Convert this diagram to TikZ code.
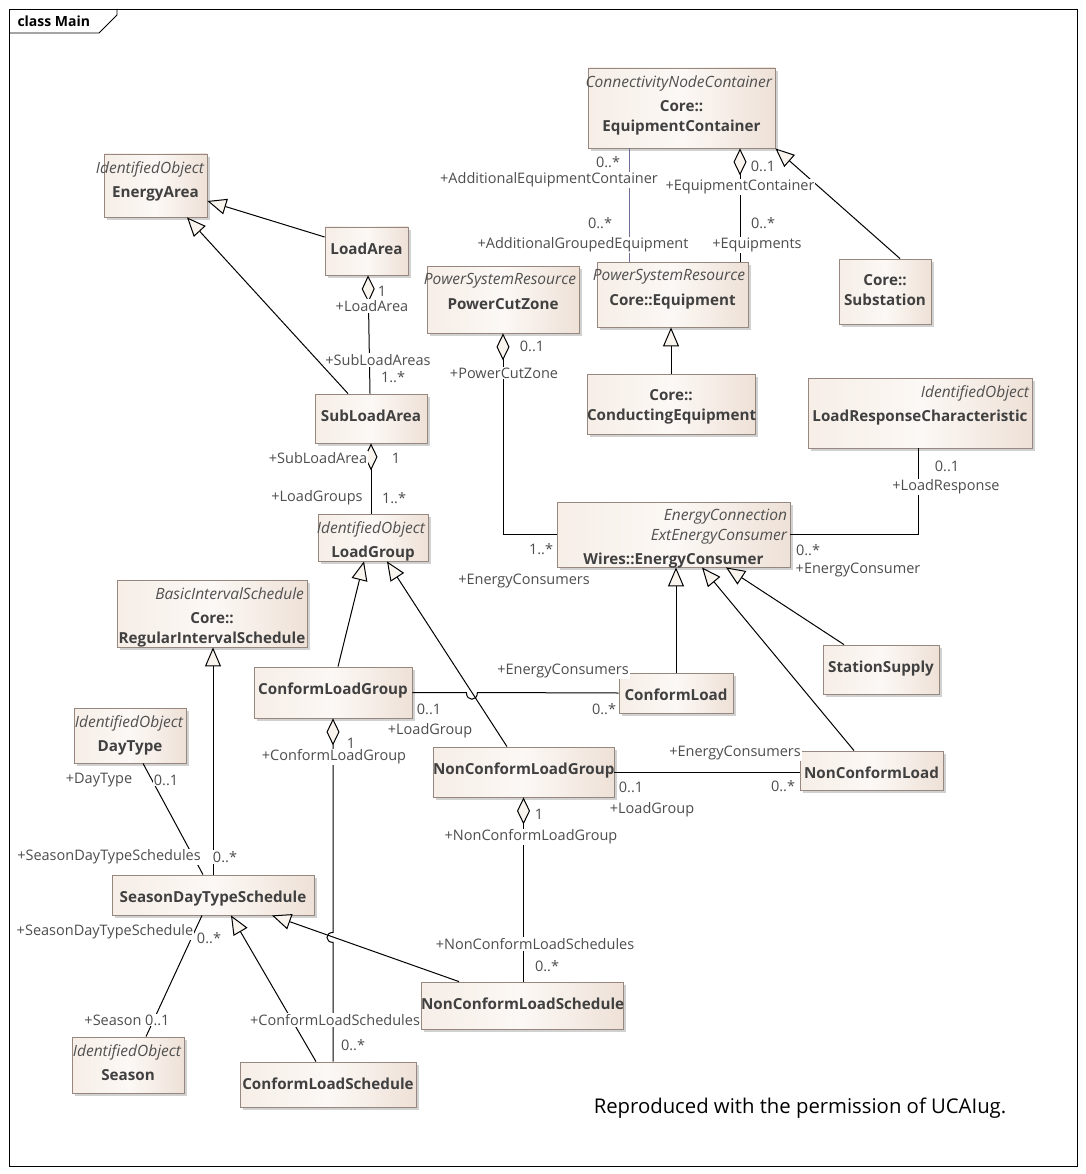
\documentclass[tikz,border=0pt]{standalone}
\usepackage{fontspec}
\setmainfont{Open Sans}
\usetikzlibrary{arrows.meta,shadows}

\definecolor{boxleft}{RGB}{246,238,231}
\definecolor{boxmid}{RGB}{252,248,245}
\definecolor{boxright}{RGB}{238,225,215}
\definecolor{boxline}{RGB}{150,136,126}
\definecolor{nametext}{RGB}{64,64,64}
\definecolor{stereotext}{RGB}{80,80,80}
\definecolor{roletext}{RGB}{77,77,77}
\definecolor{linkblue}{RGB}{110,110,150}
\definecolor{tipfill}{RGB}{250,244,239}

\newcommand{\stereo}[1]{\makebox[\linewidth][r]{\normalfont\itshape\fontsize{15.5}{19.5}\selectfont\color{stereotext}#1\hspace{3pt}}}

\tikzset{
  umlbox/.style 2 args={
    draw=boxline,
    line width=0.8pt,
    left color=boxleft, right color=boxright, middle color=boxmid,
    drop shadow={shadow xshift=3pt, shadow yshift=-3pt, fill=black!45, opacity=0.4},
    minimum width=#1,
    minimum height=#2,
    inner sep=0pt
  },
  classname/.style={
    anchor=north,
    align=center,
    text width=#1,
    inner sep=0pt,
    text=nametext,
    font=\bfseries\fontsize{15.2}{19.5}\selectfont
  },
  stereoname/.style={classname=#1, yshift=-7.5pt},
  plainname/.style={classname=#1, yshift=-16pt},
  role/.style={
    text=roletext,
    font=\fontsize{14.5}{16}\selectfont,
    fill=white,
    inner sep=1pt
  },
  inherit/.style={
    -{Triangle[length=19pt,width=16pt,fill=tipfill]},
    line width=1pt
  },
  aggregate/.style={
    {Diamond[length=27pt,width=13pt,fill=tipfill]}-,
    line width=1pt
  },
  assoc/.style={line width=1pt}
}

\begin{document}
\begin{tikzpicture}[x=1pt, y=-1pt]
  \fill[white] (0,0) rectangle (1085,1174);
  \useasboundingbox (0,0) rectangle (1085,1174);
  % frame
  \draw[line width=0.8pt] (9,9) rectangle (1077,1166);
  \draw[line width=0.8pt] (9,33) -- (99,33) -- (117,15) -- (117,9);
  \node[anchor=west, font=\bfseries\fontsize{14}{16}\selectfont] (title) at (14,21) {class Main};

  % classes
  \node[umlbox={103pt}{63pt}, label={[stereoname=103pt]north:{\stereo{IdentifiedObject}\\[5pt]EnergyArea}}] (energyarea) at (155.5,185.5) {};
  \node[umlbox={83pt}{48pt}, label={[plainname=83pt]north:{LoadArea}}] (loadarea) at (366.5,251) {};
  \node[umlbox={187pt}{80pt}, label={[stereoname=187pt]north:{\stereo{ConnectivityNodeContainer}\\[5pt]Core::\\EquipmentContainer}}] (eqcontainer) at (681.5,108) {};
  \node[umlbox={152pt}{67pt}, label={[stereoname=152pt]north:{\stereo{PowerSystemResource}\\[5pt]PowerCutZone}}] (powercutzone) at (503,299.5) {};
  \node[umlbox={151pt}{65pt}, label={[stereoname=151pt]north:{\stereo{PowerSystemResource}\\[5pt]Core::Equipment}}] (equipment) at (672.5,294.5) {};
  \node[umlbox={92pt}{65pt}, label={[plainname=92pt]north:{Core::\\Substation}}] (substation) at (885,291.5) {};
  \node[umlbox={168pt}{60pt}, label={[plainname=168pt]north:{Core::\\ConductingEquipment}}] (condequip) at (671,404) {};
  \node[umlbox={224pt}{70pt}, label={[stereoname=224pt]north:{\stereo{IdentifiedObject}\\[5pt]LoadResponseCharacteristic}}] (lrc) at (920,413) {};
  \node[umlbox={112pt}{49pt}, label={[plainname=112pt]north:{SubLoadArea}}] (subloadarea) at (371,418.5) {};
  \node[umlbox={110pt}{47pt}, label={[stereoname=110pt]north:{\stereo{IdentifiedObject}\\[5pt]LoadGroup}}] (loadgroup) at (373,537.5) {};
  \node[umlbox={233pt}{65pt}, label={[stereoname=233pt]north:{\stereo{EnergyConnection}\\\stereo{ExtEnergyConsumer}\\[5pt]Wires::EnergyConsumer}}] (energyconsumer) at (673.5,534.5) {};
  \node[umlbox={190pt}{67pt}, label={[stereoname=190pt]north:{\stereo{BasicIntervalSchedule}\\[5pt]Core::\\RegularIntervalSchedule}}] (regschedule) at (212,613.5) {};
  \node[umlbox={158pt}{51pt}, label={[plainname=158pt]north:{ConformLoadGroup}}] (conformgroup) at (333,692.5) {};
  \node[umlbox={114pt}{40pt}, label={[plainname=114pt]north:{ConformLoad}}] (conformload) at (676,693) {};
  \node[umlbox={116pt}{49pt}, label={[plainname=116pt]north:{StationSupply}}] (stationsupply) at (881,669.5) {};
  \node[umlbox={181pt}{50pt}, label={[plainname=181pt]north:{NonConformLoadGroup}}] (nonconformgroup) at (523.5,772) {};
  \node[umlbox={143pt}{39pt}, label={[plainname=143pt]north:{NonConformLoad}}] (nonconformload) at (871.5,770.5) {};
  \node[umlbox={112pt}{55pt}, label={[stereoname=112pt]north:{\stereo{IdentifiedObject}\\[5pt]DayType}}] (daytype) at (130,735.5) {};
  \node[umlbox={202pt}{40pt}, label={[plainname=202pt]north:{SeasonDayTypeSchedule}}] (sdts) at (213,895) {};
  \node[umlbox={112pt}{56pt}, label={[stereoname=112pt]north:{\stereo{IdentifiedObject}\\[5pt]Season}}] (season) at (128,1065) {};
  \node[umlbox={202pt}{47pt}, label={[plainname=202pt]north:{NonConformLoadSchedule}}] (nonconformsched) at (522,1005.5) {};
  \node[umlbox={176pt}{45pt}, label={[plainname=176pt]north:{ConformLoadSchedule}}] (conformsched) at (328,1084.5) {};

  % generalizations
  \draw[inherit] ([yshift=14pt]loadarea.west) -- ([yshift=-15.5pt]energyarea.east);
  \draw[inherit] ([xshift=-23pt]subloadarea.north) -- ([xshift=31.5pt]energyarea.south);
  \draw[inherit] ([xshift=5pt]conformgroup.north) -- ([xshift=-9pt]loadgroup.south);
  \draw[inherit] ([xshift=-16.5pt]nonconformgroup.north) -- ([xshift=14pt]loadgroup.south);
  \draw[inherit] (conformload.north) -- (conformload.north |- energyconsumer.south);
  \draw[inherit] ([xshift=-17.5pt]nonconformload.north) -- ([xshift=28.5pt]energyconsumer.south);
  \draw[inherit] ([xshift=-37pt]stationsupply.north) -- ([xshift=52.5pt]energyconsumer.south);
  \draw[inherit] ([xshift=15pt]substation.north) -- (eqcontainer.south east);
  \draw[inherit] (condequip.north) -- (condequip.north |- equipment.south);
  \draw[inherit] (sdts.north) -- (sdts.north |- regschedule.south);
  \draw[inherit] ([xshift=-63pt]nonconformsched.north) -- ([xshift=59pt]sdts.south);
  \draw[inherit] ([xshift=-12pt]conformsched.north) -- ([xshift=18pt]sdts.south);

  % aggregations
  \draw[aggregate] ([xshift=1.5pt]loadarea.south) -- ([xshift=-1pt]subloadarea.north);
  \draw[aggregate] (subloadarea.south) -- (subloadarea.south |- loadgroup.north);
  \draw[aggregate] ([xshift=58.5pt]eqcontainer.south) -- ([xshift=67.5pt]equipment.north);
  \draw[aggregate] (powercutzone.south) |- (energyconsumer.west);
  \draw[aggregate] (nonconformgroup.south) -- (nonconformgroup.south |- nonconformsched.north);
  \draw[aggregate] (conformgroup.south) -- ++(0,214)
    .. controls +(-8,0) and +(-8,0) .. ++(0,10) -- (conformgroup.south |- conformsched.north);

  % associations
  \draw[assoc, draw=linkblue, line width=0.8pt] ([xshift=-52.5pt]eqcontainer.south) -- ([xshift=-43.5pt]equipment.north);
  \draw[assoc] (conformgroup.east) -- ++(54,0)
    .. controls +(0,9) and +(0,9) .. ++(11,0) -- (conformload.west);
  \draw[assoc] (nonconformgroup.east) -- (nonconformgroup.east -| nonconformload.west);
  \draw[assoc] (energyconsumer.east) -| ([xshift=-2pt]lrc.south);
  \draw[assoc] ([xshift=13pt]daytype.south) -- ([xshift=-10pt]sdts.north);
  \draw[assoc] ([xshift=-11pt]sdts.south) -- ([xshift=18pt]season.north);

  % role names and multiplicities
  \node[role] (la-mult) at (382,291) {1};
  \node[role] (la-role) at (372,306) {+LoadArea};
  \node[role] (sla-role) at (378,360) {+SubLoadAreas};
  \node[role] (sla-mult) at (393,377) {1..*};
  \node[role] (sl-role) at (318,458) {+SubLoadArea};
  \node[role] (sl-mult) at (396,458) {1};
  \node[role] (lg-role) at (317,498) {+LoadGroups};
  \node[role] (lg-mult) at (394,498) {1..*};
  \node[role] (aec-mult) at (608,162) {0..*};
  \node[role] (aec-role) at (549,180) {+AdditionalEquipmentContainer};
  \node[role] (ec-mult) at (763,166) {0..1};
  \node[role] (ec-role) at (740,187) {+EquipmentContainer};
  \node[role] (age-mult) at (600,223) {0..*};
  \node[role] (eq-mult) at (763,223) {0..*};
  \node[role] (age-role) at (583,245) {+AdditionalGroupedEquipment};
  \node[role] (eq-role) at (757,245) {+Equipments};
  \node[role] (pcz-mult) at (532,346) {0..1};
  \node[role] (pcz-role) at (504,373) {+PowerCutZone};
  \node[role] (pec-mult) at (541,549) {1..*};
  \node[role] (pec-role) at (524,581) {+EnergyConsumers};
  \node[role] (lr-mult) at (947,466) {0..1};
  \node[role] (lr-role) at (946,487) {+LoadResponse};
  \node[role] (lec-mult) at (808,550) {0..*};
  \node[role] (lec-role) at (858,570) {+EnergyConsumer};
  \node[role] (cec-role) at (563,671) {+EnergyConsumers};
  \node[role] (clg-mult) at (429,709) {0..1};
  \node[role] (clg-role) at (430,731) {+LoadGroup};
  \node[role] (cec-mult) at (604,709) {0..*};
  \node[role] (cg-mult) at (351,743) {1};
  \node[role] (cg-role) at (334,757) {+ConformLoadGroup};
  \node[role] (cs-role) at (335,1020) {+ConformLoadSchedules};
  \node[role] (cs-mult) at (353,1045) {0..*};
  \node[role] (nec-role) at (735,753) {+EnergyConsumers};
  \node[role] (nlg-mult) at (631,787) {0..1};
  \node[role] (nlg-role) at (652,810) {+LoadGroup};
  \node[role] (nec-mult) at (783,786) {0..*};
  \node[role] (ng-mult) at (539,814) {1};
  \node[role] (ng-role) at (531,837) {+NonConformLoadGroup};
  \node[role] (ns-role) at (535,944) {+NonConformLoadSchedules};
  \node[role] (ns-mult) at (547,966) {0..*};
  \node[role] (dt-role) at (99,780) {+DayType};
  \node[role] (dt-mult) at (166,780) {0..1};
  \node[role] (sdt-role) at (109,857) {+SeasonDayTypeSchedules};
  \node[role] (sdt-mult) at (225,857) {0..*};
  \node[role] (ss-role) at (105,932) {+SeasonDayTypeSchedule};
  \node[role] (ss-mult) at (209,938) {0..*};
  \node[role] (sn-role) at (127,1020) {+Season 0..1};

  \node[font=\fontsize{20.3}{23}\selectfont] (credit) at (800,1108) {Reproduced with the permission of UCAIug.};
\end{tikzpicture}
\end{document}
